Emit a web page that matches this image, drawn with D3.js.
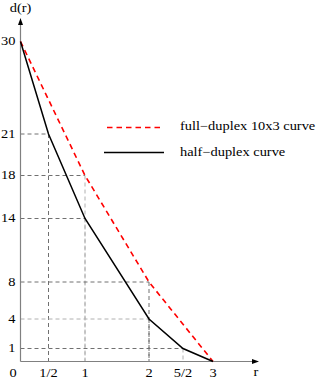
<!DOCTYPE html>
<html><head><meta charset="utf-8">
<script src="https://cdn.jsdelivr.net/npm/d3@7"></script>
<style>body{margin:0;background:#fff}svg{display:block}text{font-family:"Liberation Serif","Times New Roman",serif;fill:#000}</style>
</head><body>
<svg id="c" width="327" height="379"></svg>
<script>
// data
const rTicks = [0, 0.5, 1, 2, 2.5, 3];
const rTickLabels = ["0", "1/2", "1", "2", "5/2", "3"];
const dTicks = [1, 4, 8, 14, 18, 21, 30];
const dTickLabels = ["1", "4", "8", "14", "18", "21", "30"];
const halfR = [0, 0.5, 1, 2, 2.5, 3];
const halfD = [30, 21, 14, 4, 1, 0];
const fullR = [0, 1, 2, 3];
const fullD = [30, 18, 8, 0];
const seriesNames = ["full\u2212duplex 10x3 curve", "half\u2212duplex curve"];
const guideR = [0.5, 1, 1, 2, 2, 2.5];
const guideD = [21, 18, 14, 8, 4, 1];
const guideHShade = ["dark", "dark", "dark", "dark", "light", "dark"];
const guideVShade = ["dark", "light", "light", "dark", "dark", "light"];

// the figure's axes are hand-drawn (not uniform), so piecewise scales
const x = d3.scaleLinear().domain([0, 0.5, 1, 2, 2.5, 3]).range([20.5, 48.5, 85, 149, 183, 213]);
const y = d3.scaleLinear().domain([0, 1, 4, 8, 14, 18, 21, 30]).range([361.5, 348.5, 319, 282, 218.5, 175.5, 134, 41.5]);

const svg = d3.select("#c");
const shade = s => s === "dark" ? "#707070" : "#b0b0b0";
const SX = 1.2; // text in the reference is horizontally stretched

function txt(px, py, s, anchor, size, dy) {
  const t = svg.append("g").attr("transform", `translate(${px},${py}) scale(${SX},1)`)
    .append("text").attr("text-anchor", anchor || "start").attr("font-size", size || 12).text(s);
  if (dy) t.attr("dy", dy);
  return t;
}

// guides
const g = svg.append("g");
guideR.forEach((r, i) => {
  g.append("line").attr("x1", x(0)).attr("x2", x(r)).attr("y1", y(guideD[i])).attr("y2", y(guideD[i]))
    .attr("stroke", shade(guideHShade[i])).attr("stroke-width", 1).attr("stroke-dasharray", "4,3");
  g.append("line").attr("x1", x(r)).attr("x2", x(r)).attr("y1", y(guideD[i])).attr("y2", y(0))
    .attr("stroke", shade(guideVShade[i])).attr("stroke-width", 1).attr("stroke-dasharray", "4,3");
});

// axes
const axisCol = "#808080";
svg.append("line").attr("x1", x(0)).attr("x2", x(0)).attr("y1", y(0)).attr("y2", 22).attr("stroke", axisCol).attr("stroke-width", 1.2);
svg.append("line").attr("x1", x(0)).attr("x2", 254).attr("y1", y(0)).attr("y2", y(0)).attr("stroke", axisCol).attr("stroke-width", 1.2);
svg.append("path").attr("d", `M${x(0)},18 L${x(0)-2.5},25 L${x(0)+2.5},25 Z`).attr("fill", "#000");
svg.append("path").attr("d", `M259,${y(0)} L252,${y(0)-2.5} L252,${y(0)+2.5} Z`).attr("fill", "#000");

// tick labels
rTicks.forEach((d, i) => txt(i === 0 ? 13 : x(d), 377, rTickLabels[i], "middle", 12));
dTicks.forEach((d, i) => txt(15.5, y(d), dTickLabels[i], "end", 12, "0.33em"));
txt(20.5, 12, "d(r)", "middle", 12);
txt(256, 375.5, "r", "middle", 12);

// curves
const line = d3.line().x(d => x(d[0])).y(d => y(d[1]));
svg.append("path").datum(fullR.map((r, i) => [r, fullD[i]])).attr("d", line)
  .attr("fill", "none").attr("stroke", "#ff0000").attr("stroke-width", 1.6).attr("stroke-dasharray", "5.5,4");
svg.append("path").datum(halfR.map((r, i) => [r, halfD[i]])).attr("d", line)
  .attr("fill", "none").attr("stroke", "#000").attr("stroke-width", 1.5);

// legend
svg.append("line").attr("x1", 107).attr("x2", 163).attr("y1", 127.5).attr("y2", 127.5)
  .attr("stroke", "#ff0000").attr("stroke-width", 1.6).attr("stroke-dasharray", "5.5,4");
svg.append("line").attr("x1", 104).attr("x2", 164).attr("y1", 152.5).attr("y2", 152.5)
  .attr("stroke", "#000").attr("stroke-width", 1.5);
txt(180, 129.5, seriesNames[0], "start", 12);
txt(180, 156, seriesNames[1], "start", 12);
</script>
</body></html>
